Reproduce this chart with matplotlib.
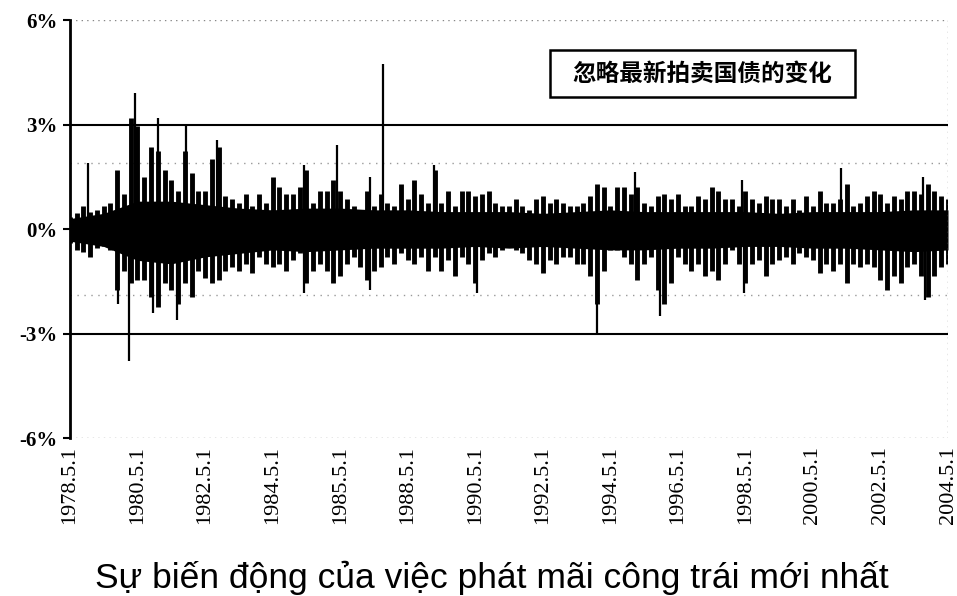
import numpy as np
import matplotlib.pyplot as plt
from matplotlib.patches import Rectangle

# tick labels along the bottom (equally spaced, as in the original)
tick_labels = ["1978.5.1", "1980.5.1", "1982.5.1", "1984.5.1", "1985.5.1",
               "1988.5.1", "1990.5.1", "1992.5.1", "1994.5.1", "1996.5.1",
               "1998.5.1", "2000.5.1", "2002.5.1", "2004.5.1"]

# upper / lower envelope of the daily change (%),
# 10 samples per tick interval
upper = [0.35, 0.45, 0.65, 0.5, 0.55, 0.65, 0.75, 1.7, 1.0, 3.2, 2.95, 1.5, 2.35,
         2.25, 1.7, 1.4, 1.1, 2.25, 1.6, 1.1, 1.1, 2.0, 2.35, 0.95, 0.85, 0.75,
         1.0, 0.65, 1.0, 0.75, 1.5, 1.2, 1.0,
         1.0, 1.2, 1.7, 0.75, 1.1, 1.1, 1.4, 1.1, 0.85, 0.65, 0.55, 1.1, 0.65,
         1.0, 0.75, 0.65, 1.3, 0.85, 1.4, 1.0, 0.75, 1.7, 0.75, 1.1, 0.65, 1.1,
         1.1, 0.95, 1.0, 1.1, 0.75, 0.65, 0.65,
         0.85, 0.65, 0.55, 0.85, 0.95, 0.75, 0.85, 0.75, 0.65, 0.65, 0.75, 0.95,
         1.3, 1.2, 0.65, 1.2, 1.2, 1.0, 1.2, 0.75, 0.65, 0.95, 1.0, 0.85, 1.0,
         0.65, 0.65, 0.95, 0.85, 1.2, 1.1, 0.85,
         0.85, 0.65, 1.1, 0.85, 0.75, 0.95, 0.85, 0.85, 0.65, 0.85, 0.55, 0.95,
         0.65, 1.1, 0.75, 0.75, 0.85, 1.3, 0.65, 0.75, 0.95, 1.1, 1.0, 0.75,
         0.95, 0.85, 1.1, 1.1, 1.0, 1.3, 1.1, 0.95, 0.85]
lower = [-0.4, -0.6, -0.65, -0.8, -0.55, -0.5, -0.6, -1.75, -1.2, -1.55, -1.45,
         -1.45, -1.95, -2.25, -1.55, -1.75, -2.15, -1.55, -1.95, -1.2, -1.4,
         -1.55, -1.45, -1.2, -1.1, -1.2, -1.0, -1.25, -0.8, -1.0, -1.1, -1.0, -1.2,
         -0.9, -0.7, -1.55, -1.2, -1.0, -1.2, -1.55, -1.35, -1.0, -0.8, -1.1,
         -1.45, -1.2, -1.1, -0.8, -1.0, -0.7, -0.9, -1.0, -0.8, -1.2, -0.8, -1.2,
         -0.9, -1.35, -0.8, -1.0, -1.55, -0.9, -0.7, -0.8, -0.6, -0.5,
         -0.6, -0.7, -0.9, -1.0, -1.25, -0.9, -1.0, -0.8, -0.8, -1.0, -1.0, -1.35,
         -2.15, -1.2, -0.6, -0.6, -0.8, -1.0, -1.45, -1.0, -0.8, -1.75, -2.15,
         -1.55, -0.8, -1.0, -1.2, -1.0, -1.35, -1.2, -1.45, -1.0,
         -0.6, -1.0, -1.55, -1.0, -0.9, -1.35, -1.0, -0.9, -0.8, -1.0, -0.7, -0.8,
         -0.9, -1.25, -1.0, -1.2, -1.0, -1.55, -1.0, -1.1, -1.0, -1.1, -1.45,
         -1.75, -1.35, -1.55, -1.1, -1.0, -1.35, -1.95, -1.35, -1.1, -1.0]

# solid core of the band, every half tick
core_hi = [0.3, 0.45, 0.8, 0.8, 0.7, 0.6, 0.55, 0.6, 0.6, 0.55, 0.55, 0.5, 0.5,
           0.5, 0.45, 0.5, 0.55, 0.5, 0.5, 0.5, 0.5, 0.45, 0.5, 0.5, 0.5, 0.55,
           0.55]
core_lo = [-0.35, -0.5, -0.9, -1.0, -0.8, -0.7, -0.6, -0.65, -0.6, -0.55, -0.55,
           -0.55, -0.5, -0.55, -0.5, -0.55, -0.6, -0.6, -0.55, -0.55, -0.5, -0.5,
           -0.55, -0.55, -0.6, -0.65, -0.6]

# isolated tall spikes (position in tick units, value in %)
spike_pos = [0.26, 0.71, 0.87, 0.96, 1.23, 1.30, 1.58, 1.72, 2.17, 3.47, 3.47,
             3.96, 4.44, 4.44, 4.63, 5.39, 6.03, 7.81, 8.37, 8.73, 9.95, 9.98,
             11.42, 12.63, 12.66]
spike_val = [1.9, -2.15, -3.8, 3.9, -2.4, 3.2, -2.6, 3.0, 2.55, 1.85, -1.85,
             2.4, 1.5, -1.75, 4.75, 1.85, -1.85, -3.0, 1.65, -2.5, 1.4, -1.85,
             1.75, 1.5, -2.05]

note = "忽略最新拍卖国债的变化"
title = "Sự biến động của việc phát mãi công trái mới nhất"

fig = plt.figure(figsize=(9.57, 5.96), dpi=100)
ax = fig.add_axes([0.0731, 0.2651, 0.9175, 0.7013])

# dense core + one bar per sample from low to high + the tall spikes
t_core = np.arange(len(core_hi)) / 2.0
ax.fill_between(t_core, core_lo, core_hi, color="black", lw=0)
t = np.arange(len(upper)) / 10.0
ax.vlines(t, lower, upper, color="black", lw=3.5)
ax.vlines(spike_pos, 0, spike_val, color="black", lw=1.6)

# reference lines
for v in (3, -3):
    ax.axhline(v, color="black", lw=1.5, zorder=3)
for v in (1.9, -1.9):
    ax.axhline(v, color="#999999", lw=1, ls=(0, (1, 4)), zorder=0)
for v in (6, -6):
    ax.axhline(v, color="#888888", lw=1, ls=(0, (1, 3)), zorder=0)
ax.axvline(13, color="#888888", lw=1, ls=(0, (1, 3)))

ax.set_xlim(0, 13)
ax.set_ylim(-6, 6)
for s in ("top", "right", "bottom"):
    ax.spines[s].set_visible(False)
ax.spines["left"].set_linewidth(2)

ax.set_yticks([6, 3, 0, -3, -6])
ax.set_yticklabels(["6%", "3%", "0%", "-3%", "-6%"],
                   family="Liberation Serif", fontsize=15, fontweight="bold")
ax.tick_params(axis="y", length=5, width=1.5, pad=4)
ax.set_xticks(range(len(tick_labels)))
ax.set_xticklabels(tick_labels, rotation=90, family="Liberation Serif",
                   fontsize=16)
ax.tick_params(axis="x", length=0, pad=6)

# note box
ax.add_patch(Rectangle((0.5467, 0.816), 0.347, 0.112, transform=ax.transAxes,
                       fill=False, ec="black", lw=1.8, zorder=5))
ax.text(0.7205, 0.872, note, transform=ax.transAxes, ha="center", va="center",
        fontsize=17, fontweight="bold",
        family=["Noto Sans CJK SC", "DejaVu Sans"])

fig.text(0.514, 0.031, title, ha="center", va="center", fontsize=25.5,
         family="Liberation Sans")

fig.savefig("out.png", dpi=100)
